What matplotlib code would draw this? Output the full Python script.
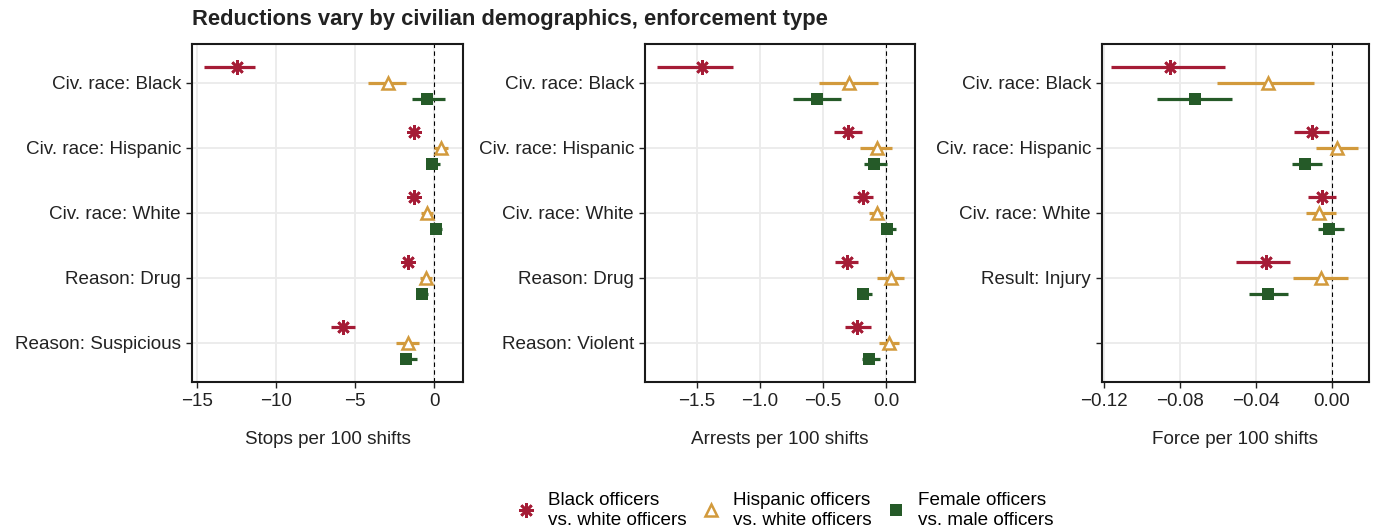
import matplotlib
matplotlib.use("Agg")
import matplotlib.pyplot as plt
from matplotlib.lines import Line2D
import numpy as np

plt.rcParams['font.family'] = ['Liberation Sans', 'DejaVu Sans']

# ---------------- data ----------------
series_names = ["Black officers\nvs. white officers",
                "Hispanic officers\nvs. white officers",
                "Female officers\nvs. male officers"]

stops_cats = ["Civ. race: Black", "Civ. race: Hispanic", "Civ. race: White",
              "Reason: Drug", "Reason: Suspicious"]
stops_black = [-12.48, -1.26, -1.26, -1.64, -5.74]
stops_black_lo = [-14.54, -1.50, -1.50, -1.88, -6.54]
stops_black_hi = [-11.30, -1.02, -1.02, -1.40, -4.99]
stops_hisp = [-2.88, 0.46, -0.44, -0.53, -1.64]
stops_hisp_lo = [-4.17, -0.02, -0.80, -0.90, -2.38]
stops_hisp_hi = [-1.79, 0.90, -0.06, -0.10, -0.97]
stops_fem = [-0.44, -0.15, 0.13, -0.74, -1.75]
stops_fem_lo = [-1.39, -0.48, -0.17, -1.00, -2.17]
stops_fem_hi = [0.72, 0.38, 0.50, -0.38, -1.07]

arrests_cats = ["Civ. race: Black", "Civ. race: Hispanic", "Civ. race: White",
                "Reason: Drug", "Reason: Violent"]
arrests_black = [-1.46, -0.298, -0.185, -0.312, -0.227]
arrests_black_lo = [-1.817, -0.412, -0.264, -0.407, -0.325]
arrests_black_hi = [-1.209, -0.193, -0.100, -0.224, -0.121]
arrests_hisp = [-0.296, -0.074, -0.074, 0.037, 0.024]
arrests_hisp_lo = [-0.533, -0.206, -0.132, -0.069, -0.055]
arrests_hisp_hi = [-0.066, 0.045, -0.021, 0.145, 0.106]
arrests_fem = [-0.549, -0.095, 0.008, -0.185, -0.137]
arrests_fem_lo = [-0.739, -0.174, -0.026, -0.227, -0.187]
arrests_fem_hi = [-0.356, 0.008, 0.077, -0.108, -0.048]

force_cats = ["Civ. race: Black", "Civ. race: Hispanic", "Civ. race: White",
              "Result: Injury", ""]
force_black = [-0.0850, -0.0102, -0.0049, -0.0345]
force_black_lo = [-0.1162, -0.0198, -0.0123, -0.0505]
force_black_hi = [-0.0561, -0.0012, 0.0023, -0.0219]
force_hisp = [-0.0333, 0.0026, -0.0065, -0.0056]
force_hisp_lo = [-0.0603, -0.0082, -0.0138, -0.0205]
force_hisp_hi = [-0.0096, 0.0137, 0.0021, 0.0084]
force_fem = [-0.0718, -0.0140, -0.0012, -0.0338]
force_fem_lo = [-0.0920, -0.0208, -0.0070, -0.0438]
force_fem_hi = [-0.0527, -0.0049, 0.0067, -0.0228]

x_labels = ["Stops per 100 shifts", "Arrests per 100 shifts", "Force per 100 shifts"]
title = "Reductions vary by civilian demographics, enforcement type"

# ---------------- style ----------------
RED = "#a51c36"
GOLD = "#d29a3c"
GREEN = "#255a28"
colors = [RED, GOLD, GREEN]
offsets = [0.25, 0.0, -0.25]
mstyles = [dict(marker=(8, 2, 0), markersize=10.5, markeredgewidth=1.9,
                markerfacecolor=RED, markeredgecolor=RED),
           dict(marker='^', markersize=9, markeredgewidth=1.8,
                markerfacecolor='white', markeredgecolor=GOLD),
           dict(marker='s', markersize=8, markeredgewidth=0,
                markerfacecolor=GREEN, markeredgecolor=GREEN)]
FS = 13.6

fig = plt.figure(figsize=(13.74, 5.30), dpi=100)
W, H = 1374, 530
def ax_rect(l, r, t, b):
    return [l / W, 1 - b / H, (r - l) / W, (b - t) / H]

axes = [fig.add_axes(ax_rect(192, 463, 44, 382)),
        fig.add_axes(ax_rect(645, 915, 44, 382)),
        fig.add_axes(ax_rect(1102, 1369, 44, 382))]

panels = [
    (stops_cats, [(stops_black, stops_black_lo, stops_black_hi),
                  (stops_hisp, stops_hisp_lo, stops_hisp_hi),
                  (stops_fem, stops_fem_lo, stops_fem_hi)],
     (-15.3, 1.83), [-15, -10, -5, 0], ["\u221215", "\u221210", "\u22125", "0"]),
    (arrests_cats, [(arrests_black, arrests_black_lo, arrests_black_hi),
                    (arrests_hisp, arrests_hisp_lo, arrests_hisp_hi),
                    (arrests_fem, arrests_fem_lo, arrests_fem_hi)],
     (-1.91, 0.23), [-1.5, -1.0, -0.5, 0.0], ["\u22121.5", "\u22121.0", "\u22120.5", "0.0"]),
    (force_cats, [(force_black, force_black_lo, force_black_hi),
                  (force_hisp, force_hisp_lo, force_hisp_hi),
                  (force_fem, force_fem_lo, force_fem_hi)],
     (-0.1209, 0.0196), [-0.12, -0.08, -0.04, 0.0],
     ["\u22120.12", "\u22120.08", "\u22120.04", "0.00"]),
]

for ax, (cats, series, xlim, xt, xtl), xl in zip(axes, panels, x_labels):
    n = len(cats)
    ypos = np.arange(n, 0, -1)
    for k, (vals, lo, hi) in enumerate(series):
        m = len(vals)
        y = ypos[:m] + offsets[k]
        ax.hlines(y, lo, hi, color=colors[k], lw=2.3, zorder=3)
        ax.plot(vals, y, linestyle='none', zorder=4, **mstyles[k])
    ax.axvline(0, color='black', lw=0.8, ls=(0, (4, 3)), zorder=2)
    ax.set_xlim(*xlim)
    ax.set_ylim(0.4, n + 0.6)
    ax.set_yticks(ypos)
    ax.set_yticklabels(cats)
    ax.set_xticks(xt)
    ax.set_xticklabels(xtl)
    ax.grid(True, color='#ebebeb', lw=1.3, zorder=0)
    ax.set_axisbelow(True)
    for s in ax.spines.values():
        s.set_color('#1a1a1a')
        s.set_linewidth(1.5)
    ax.tick_params(axis='both', labelsize=FS, colors='#222222', length=4,
                   width=1.0, labelcolor='#222222', pad=4)
    ax.set_xlabel(xl, fontsize=FS, color='#222222', labelpad=15)

fig.text(192 / W, 1 - 20 / H, title, fontsize=15.8, fontweight='bold',
         color='#222222', ha='left', va='center')

handles = [Line2D([], [], linestyle='none', **mstyles[k]) for k in range(3)]
fig.legend(handles, series_names, loc='lower center', ncol=3, frameon=False,
           bbox_to_anchor=(785 / W, -0.03), fontsize=FS, handlelength=1.0,
           handletextpad=0.7, columnspacing=0.75, labelspacing=0.1)

fig.savefig("out.png", dpi=100)
